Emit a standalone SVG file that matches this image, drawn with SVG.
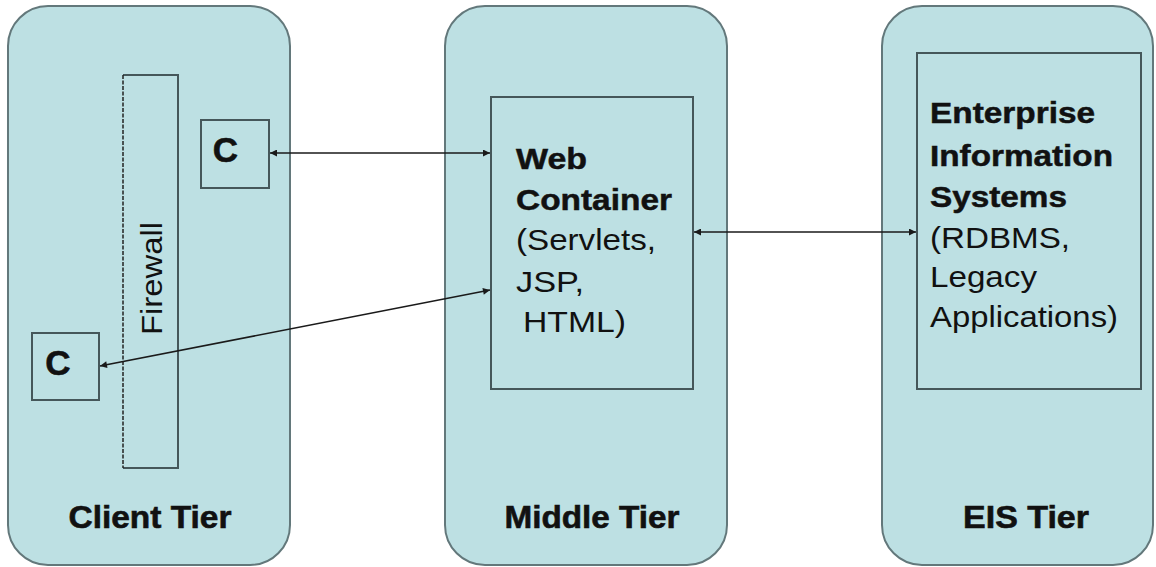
<svg xmlns="http://www.w3.org/2000/svg" width="1156" height="567" viewBox="0 0 1156 567">
  <style>
    .tier { fill: #bde0e3; stroke: #63787b; stroke-width: 2; }
    .box { fill: none; stroke: #45575a; stroke-width: 2; }
    .t { font-family: "Liberation Sans", Arial, sans-serif; fill: #111; font-size: 30px; }
    .b { font-weight: bold; stroke: #111; stroke-width: 0.5; }
    .label { font-family: "Liberation Sans", Arial, sans-serif; font-weight: bold; font-size: 32px; fill: #111; stroke: #111; stroke-width: 0.6; text-anchor: middle; }
    .c { font-family: "Liberation Sans", Arial, sans-serif; font-weight: bold; font-size: 35px; fill: #111; stroke: #111; stroke-width: 0.6; text-anchor: middle; }
    .link { fill: none; stroke: #1a1a1a; stroke-width: 1.6; }
  </style>
  <defs>
    <marker id="head" viewBox="0 0 10 10" refX="10" refY="5" markerWidth="10" markerHeight="7" markerUnits="userSpaceOnUse" orient="auto-start-reverse">
      <path d="M0,0 L10,5 L0,10 Z" fill="#1a1a1a"/>
    </marker>
  </defs>

  <rect width="1156" height="567" fill="#ffffff"/>

  <!-- Client tier -->
  <g id="client-tier">
    <rect class="tier" x="8" y="6" width="282" height="559" rx="40" ry="40"/>
    <text class="label" x="150" y="528" textLength="163" lengthAdjust="spacingAndGlyphs">Client Tier</text>
  </g>

  <!-- Middle tier -->
  <g id="middle-tier">
    <rect class="tier" x="445" y="6" width="282" height="559" rx="40" ry="40"/>
    <text class="label" x="592" y="528" textLength="175" lengthAdjust="spacingAndGlyphs">Middle Tier</text>
  </g>

  <!-- EIS tier -->
  <g id="eis-tier">
    <rect class="tier" x="882" y="6" width="271" height="559" rx="40" ry="40"/>
    <text class="label" x="1026" y="528" textLength="126" lengthAdjust="spacingAndGlyphs">EIS Tier</text>
  </g>

  <!-- Firewall: dashed on the outer side -->
  <g id="firewall">
    <path class="box" d="M123,75 H178 V468 H123"/>
    <line x1="123" y1="75" x2="123" y2="468" stroke="#222" stroke-width="1.5" stroke-dasharray="4 1.5"/>
    <text class="t" transform="translate(162 335) rotate(-90)" font-size="32" textLength="113" lengthAdjust="spacingAndGlyphs">Firewall</text>
  </g>

  <!-- Clients -->
  <g id="client-top">
    <rect class="box" x="201" y="120" width="68" height="68"/>
    <text class="c" x="225.5" y="162">C</text>
  </g>
  <g id="client-bottom">
    <rect class="box" x="32" y="333" width="67" height="67"/>
    <text class="c" x="58" y="375" font-size="37">C</text>
  </g>

  <!-- Web container -->
  <g id="web-container">
    <rect class="box" x="491" y="97" width="202" height="292"/>
    <text class="t b" x="516" y="169" textLength="71" lengthAdjust="spacingAndGlyphs">Web</text>
    <text class="t b" x="516" y="210" textLength="156" lengthAdjust="spacingAndGlyphs">Container</text>
    <text class="t" x="516" y="250" textLength="140" lengthAdjust="spacingAndGlyphs">(Servlets,</text>
    <text class="t" x="516" y="292" textLength="68" lengthAdjust="spacingAndGlyphs">JSP,</text>
    <text class="t" x="523" y="332" textLength="103" lengthAdjust="spacingAndGlyphs">HTML)</text>
  </g>

  <!-- Enterprise information systems -->
  <g id="eis">
    <rect class="box" x="917" y="53" width="224" height="336"/>
    <text class="t b" x="930" y="123" textLength="165" lengthAdjust="spacingAndGlyphs">Enterprise</text>
    <text class="t b" x="930" y="166" textLength="183" lengthAdjust="spacingAndGlyphs">Information</text>
    <text class="t b" x="930" y="207" textLength="137" lengthAdjust="spacingAndGlyphs">Systems</text>
    <text class="t" x="930" y="248" textLength="140" lengthAdjust="spacingAndGlyphs">(RDBMS,</text>
    <text class="t" x="930" y="287" textLength="107" lengthAdjust="spacingAndGlyphs">Legacy</text>
    <text class="t" x="930" y="327" textLength="188" lengthAdjust="spacingAndGlyphs">Applications)</text>
  </g>

  <!-- Connectors -->
  <g id="connectors">
    <line class="link" x1="270" y1="153" x2="490" y2="153" marker-start="url(#head)" marker-end="url(#head)"/>
    <line class="link" x1="694" y1="232" x2="916" y2="232" marker-start="url(#head)" marker-end="url(#head)"/>
    <line class="link" x1="490" y1="290" x2="100" y2="366" stroke="#2a3a3b" marker-start="url(#head)" marker-end="url(#head)"/>
  </g>
</svg>
